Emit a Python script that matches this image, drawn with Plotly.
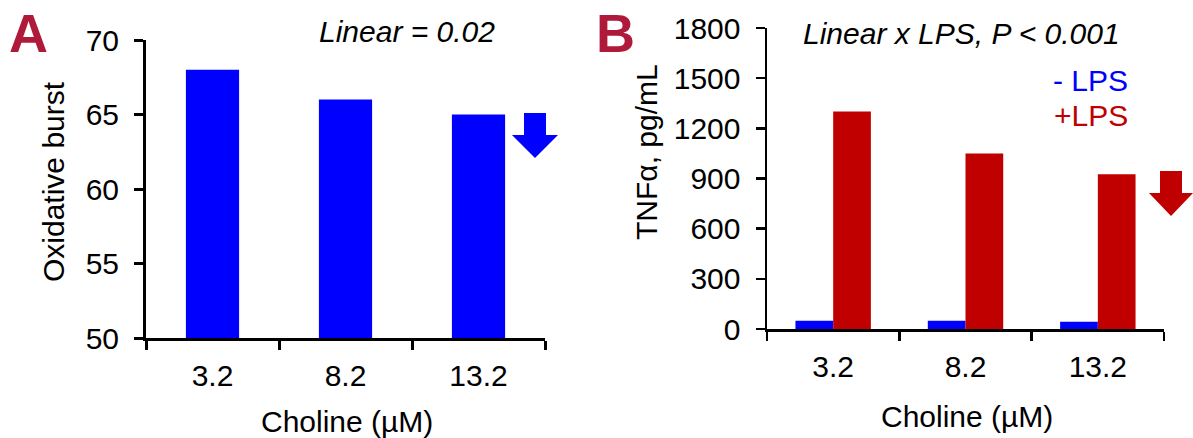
import plotly.graph_objects as go

W, H = 1193, 438

categories = ["3.2", "8.2", "13.2"]
oxidative_burst = [68, 66, 65]
tnf_minus_lps = [50, 50, 44]
tnf_plus_lps = [1300, 1050, 925]

BLUE = "#0000FF"
RED = "#C00000"
CRIMSON = "#AF1A3A"
FONT = "Liberation Sans, Arial, sans-serif"
FS = 30


def px(x):
    return x / W


def py(y):
    return 1 - y / H


fig = go.Figure()

fig.add_trace(go.Bar(x=categories, y=oxidative_burst, marker_color=BLUE,
                     marker_line_width=0,
                     width=0.4, xaxis="x", yaxis="y", showlegend=False))
fig.add_trace(go.Bar(x=categories, y=tnf_minus_lps, marker_color=BLUE,
                     marker_line_width=0,
                     width=0.285, offset=-0.285, xaxis="x2", yaxis="y2",
                     showlegend=False))
fig.add_trace(go.Bar(x=categories, y=tnf_plus_lps, marker_color=RED,
                     marker_line_width=0,
                     width=0.285, offset=0, xaxis="x2", yaxis="y2",
                     showlegend=False))

xcommon = dict(type="category", range=[-0.5, 2.5], showline=True,
               linecolor="black", ticks="outside", tickson="boundaries",
               ticklen=9, tickcolor="black", showgrid=False, zeroline=False,
               tickfont=dict(family=FONT, size=FS, color="black"),
               ticklabelstandoff=9,
               fixedrange=True, automargin=False)
ycommon = dict(showline=True, linecolor="black", ticks="outside", ticklen=9,
               tickcolor="black", showgrid=False, zeroline=False,
               tickfont=dict(family=FONT, size=FS, color="black"),
               ticklabelstandoff=9,
               fixedrange=True, automargin=False)

fig.update_layout(
    template="none",
    width=W, height=H,
    margin=dict(l=0, r=0, t=0, b=0, pad=0),
    paper_bgcolor="white", plot_bgcolor="white",
    barmode="overlay",
    xaxis=dict(xcommon, domain=[px(146), px(545)], anchor="y",
               linewidth=3, tickwidth=3),
    yaxis=dict(ycommon, domain=[py(338), py(40)], anchor="x",
               range=[50, 70], dtick=5, linewidth=3, tickwidth=3),
    xaxis2=dict(xcommon, domain=[px(767), px(1164)], anchor="y2",
                linewidth=2.5, tickwidth=2.5),
    yaxis2=dict(ycommon, domain=[py(329), py(28)], anchor="x2",
                range=[0, 1800], dtick=300, linewidth=2.5, tickwidth=2.5),
)

ann = []


def add_text(text, x, y, size=FS, color="black", bold=False, italic=False,
             xanchor="center", angle=0):
    t = text
    if bold:
        t = "<b>" + t + "</b>"
    if italic:
        t = "<i>" + t + "</i>"
    ann.append(dict(text=t, x=px(x), y=py(y), xref="paper", yref="paper",
                    xanchor=xanchor, yanchor="middle", showarrow=False,
                    textangle=angle, borderpad=0,
                    font=dict(family=FONT, size=size, color=color)))


add_text("A", 28.5, 33, size=54, color=CRIMSON, bold=True)
add_text("B", 615, 33, size=54, color=CRIMSON, bold=True)
add_text("Linear = 0.02", 407, 31, italic=True)
add_text("Linear x LPS, P < 0.001", 961, 33.5, italic=True)
add_text("- LPS", 1129, 80, color=BLUE, xanchor="right")
add_text("+LPS", 1129, 115, color=RED, xanchor="right")
add_text("Oxidative burst", 53, 182, angle=-90)
add_text("TNFα, pg/mL", 646, 152, angle=-90)
add_text("Choline (µM)", 347, 421)
add_text("Choline (µM)", 967, 416)

fig.update_layout(annotations=ann)


def arrow(stem_l, stem_r, top, head_top, head_l, head_r, tip_x, tip_y):
    pts = [(stem_l, top), (stem_r, top), (stem_r, head_top), (head_r, head_top),
           (tip_x, tip_y), (head_l, head_top), (stem_l, head_top)]
    return "M " + " L ".join(f"{px(a):.5f},{py(b):.5f}" for a, b in pts) + " Z"


fig.add_shape(type="path", xref="paper", yref="paper",
              path=arrow(524, 546, 113, 135, 512, 558, 535, 158),
              fillcolor=BLUE, line=dict(width=0))
fig.add_shape(type="path", xref="paper", yref="paper",
              path=arrow(1160, 1182, 171, 193, 1149, 1193, 1171, 216),
              fillcolor=RED, line=dict(width=0))

fig.write_html("out.html",
               config={"displayModeBar": False, "staticPlot": True},
               post_script="document.body.style.margin='0px';"
                           "document.body.style.overflow='hidden';")
